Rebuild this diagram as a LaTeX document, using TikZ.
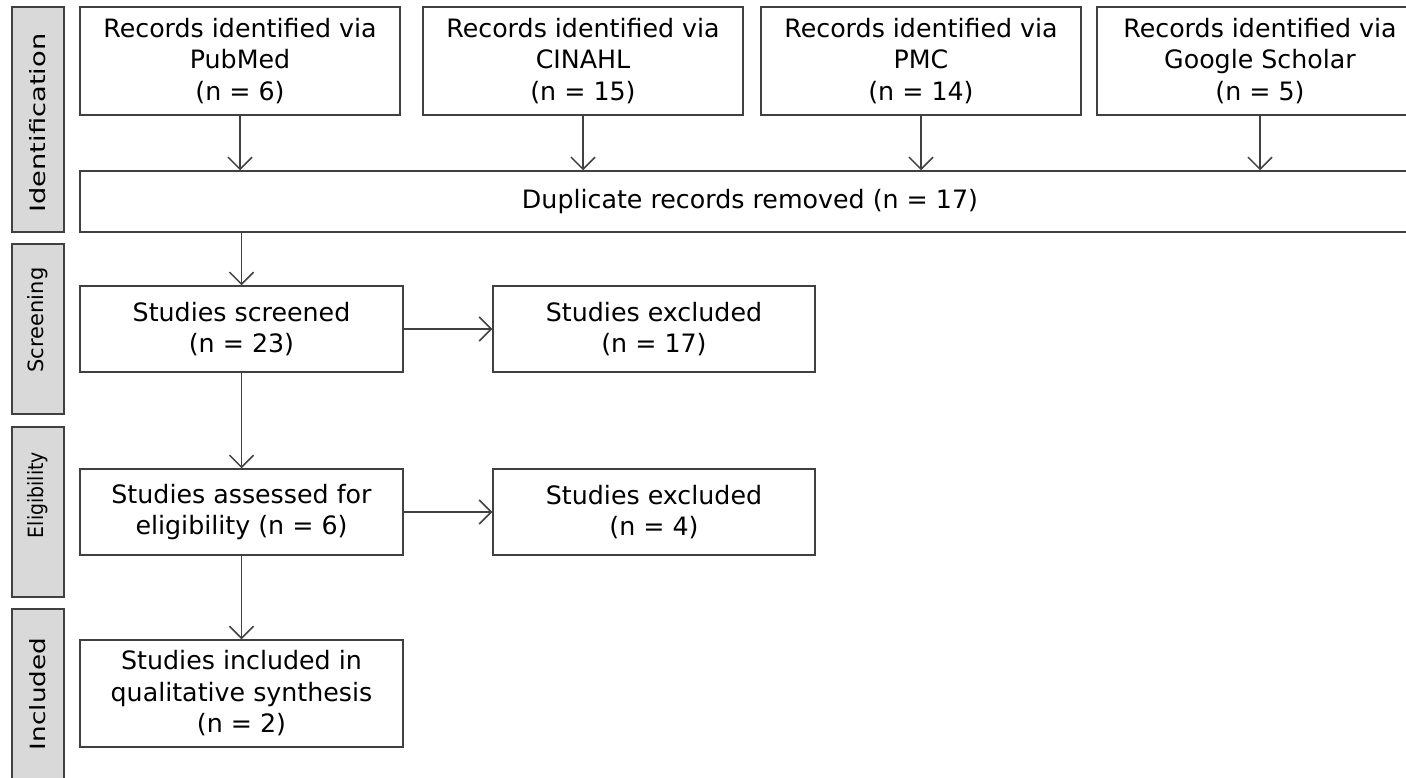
\documentclass[tikz,border=0pt]{standalone}
\usepackage{fontspec}
\setmainfont{DejaVu Sans}
\usetikzlibrary{arrows.meta}
\definecolor{edge}{HTML}{404040}
\definecolor{sidefill}{HTML}{D9D9D9}
\begin{document}
\begin{tikzpicture}[x=1pt,y=-1pt,
  box/.style={draw=edge, line width=1.5pt, fill=white, inner sep=0pt, align=center,
    font=\fontsize{25.3}{31.5}\selectfont, text=black},
  side/.style={draw=edge, line width=1.5pt, fill=sidefill, inner sep=0pt, minimum width=52pt},
  sidetext/.style={rotate=90, inner sep=0pt, font=\fontsize{21}{26}\selectfont, text=black},
  arr/.style={draw=edge, line width=1.5pt, -{Straight Barb[length=12pt,width=24pt,line width=1.5pt]}}]
\useasboundingbox (0,0) rectangle (1406,778);
% side labels
\node[side, minimum height=225pt] (sid) at (38,119.5) {};
\node[sidetext] (tid) at (38,123) {\scalebox{1.3}[1]{Identification}};
\node[side, minimum height=170pt] (ssc) at (38,329) {};
\node[sidetext] (tsc) at (38,320) {Screening};
\node[side, minimum height=170pt] (sel) at (38,512) {};
\node[sidetext] (tel) at (38,495) {\scalebox{0.9}[1]{Eligibility}};
\node[side, minimum height=170pt] (sin) at (38,694) {};
\node[sidetext] (tin) at (38,694) {\scalebox{1.25}[1]{Included}};
% identification boxes
\node[box, minimum width=320pt, minimum height=108pt] (r1) at (240,61) {Records identified via\\PubMed\\(n = 6)};
\node[box, minimum width=320pt, minimum height=108pt] (r2) at (583,61) {Records identified via\\CINAHL\\(n = 15)};
\node[box, minimum width=320pt, minimum height=108pt] (r3) at (921,61) {Records identified via\\PMC\\(n = 14)};
\node[box, minimum width=326pt, minimum height=108pt] (r4) at (1260,61) {Records identified via\\Google Scholar\\(n = 5)};
\node[box, minimum width=1340pt, minimum height=61pt] (dup) at (750,201.5) {Duplicate records removed (n = 17)};
% screening
\node[box, minimum width=323pt, minimum height=86pt] (scr) at (241.5,329) {Studies screened\\(n = 23)};
\node[box, minimum width=322pt, minimum height=86pt] (ex1) at (654,329) {Studies excluded\\(n = 17)};
% eligibility
\node[box, minimum width=323pt, minimum height=86pt] (eli) at (241.5,512) {Studies assessed for\\eligibility (n = 6)};
\node[box, minimum width=322pt, minimum height=86pt] (ex2) at (654,512) {Studies excluded\\(n = 4)};
% included
\node[box, minimum width=323pt, minimum height=107pt] (inc) at (241.5,693.5) {Studies included in\\qualitative synthesis\\(n = 2)};
% arrows
\draw[arr] (r1.south) -- (r1.south |- dup.north);
\draw[arr] (r2.south) -- (r2.south |- dup.north);
\draw[arr] (r3.south) -- (r3.south |- dup.north);
\draw[arr] (r4.south) -- (r4.south |- dup.north);
\draw[arr] (dup.south -| scr.north) -- (scr.north);
\draw[arr] (scr.east) -- (ex1.west);
\draw[arr] (scr.south) -- (eli.north);
\draw[arr] (eli.east) -- (ex2.west);
\draw[arr] (eli.south) -- (inc.north);
\end{tikzpicture}
\end{document}
